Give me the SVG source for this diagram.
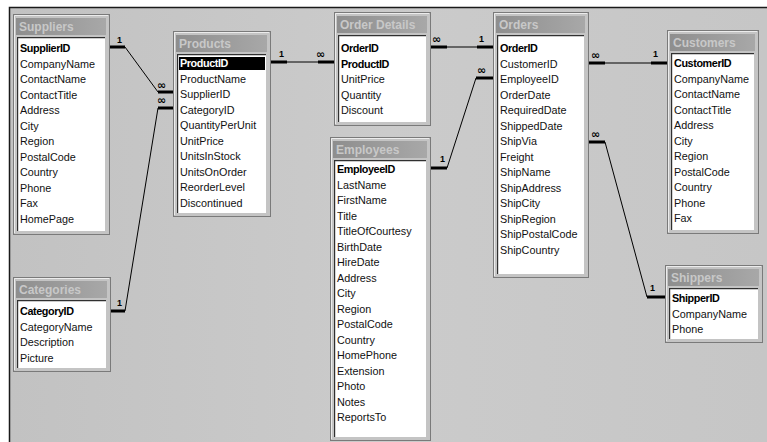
<svg xmlns="http://www.w3.org/2000/svg" width="767" height="442" viewBox="0 0 767 442">
<defs>
<linearGradient id="tg" x1="0" y1="0" x2="1" y2="0">
<stop offset="0" stop-color="#8e8e8e"/>
<stop offset="1" stop-color="#a8a8a8"/>
</linearGradient>
<linearGradient id="bg" x1="0" y1="0" x2="1" y2="0">
<stop offset="0" stop-color="#c2c2c2"/>
<stop offset="0.5" stop-color="#cbcbcb"/>
<stop offset="1" stop-color="#c6c6c6"/>
</linearGradient>
<style>
.frame{fill:#c4c4c4;stroke:#7a7a7a;stroke-width:1}
.hl{fill:none;stroke:#ececec;stroke-width:1}
.title{fill:url(#tg)}
.ttl{font-family:"Liberation Sans",Arial,sans-serif;font-size:12px;font-weight:bold;fill:#c8c8c8}
.list{fill:#ffffff}
.inset{fill:none;stroke:#303030;stroke-width:1.2}
.f{font-family:"Liberation Sans",Arial,sans-serif;font-size:10.8px;fill:#111}
.k{font-family:"Liberation Sans",Arial,sans-serif;font-size:10.8px;font-weight:bold;fill:#000;letter-spacing:-0.4px}
.stub{stroke:#000;stroke-width:3;fill:none}
.ln{stroke:#000;stroke-width:1;fill:none}
.one{font-family:"Liberation Sans",Arial,sans-serif;font-size:9px;font-weight:bold;fill:#000}
.inf{font-family:"DejaVu Sans",sans-serif;font-size:11px;font-weight:bold;fill:#000}
</style>
</defs>
<rect x="0" y="0" width="767" height="442" fill="#ffffff"/>
<rect x="9" y="7" width="758" height="435" fill="url(#bg)"/>
<path d="M9.5 442 V7.5 H767" fill="none" stroke="#1a1a1a" stroke-width="1.5"/>

<g id="connectors">
<path class="stub" d="M109 47 H125 M158 92 H173"/>
<path class="ln" d="M125 47 L158 92"/>
<text class="one" x="117" y="43">1</text>
<text class="inf" x="157" y="89">∞</text>

<path class="stub" d="M110 311 H125 M158 108 H173"/>
<path class="ln" d="M125 311 L158 108"/>
<text class="one" x="117" y="306">1</text>
<text class="inf" x="157" y="104">∞</text>

<path class="stub" d="M270 62 H287 M318 62 H334"/>
<path class="ln" d="M287 62 H318"/>
<text class="one" x="279" y="57">1</text>
<text class="inf" x="316" y="58">∞</text>

<path class="stub" d="M430 47 H447 M477 47 H493"/>
<path class="ln" d="M447 47 H477"/>
<text class="inf" x="432" y="43">∞</text>
<text class="one" x="479" y="42">1</text>

<path class="stub" d="M430 168 H447 M476 78 H493"/>
<path class="ln" d="M447 168 L476 78"/>
<text class="one" x="440" y="162">1</text>
<text class="inf" x="477" y="74">∞</text>

<path class="stub" d="M588 63 H605 M651 63 H667"/>
<path class="ln" d="M605 63 H651"/>
<text class="inf" x="591" y="59">∞</text>
<text class="one" x="653" y="57">1</text>

<path class="stub" d="M588 142 H605 M647 297 H665"/>
<path class="ln" d="M605 142 L647 297"/>
<text class="inf" x="591" y="138">∞</text>
<text class="one" x="650" y="291">1</text>
</g>

<g id="suppliers">
<rect class="frame" x="13.5" y="14.5" width="96" height="220"/>
<path class="hl" d="M14.5 233 V15.5 H108"/>
<rect class="title" x="16" y="18" width="90" height="17"/>
<text class="ttl" x="19" y="31">Suppliers</text>
<rect class="list" x="17" y="37" width="88" height="194"/>
<path class="inset" d="M17.6 231 V37.6 H105"/>
<text class="k" x="20" y="52">SupplierID</text>
<text class="f" x="20" y="67.5">CompanyName</text>
<text class="f" x="20" y="83">ContactName</text>
<text class="f" x="20" y="98.5">ContactTitle</text>
<text class="f" x="20" y="114">Address</text>
<text class="f" x="20" y="129.5">City</text>
<text class="f" x="20" y="145">Region</text>
<text class="f" x="20" y="160.5">PostalCode</text>
<text class="f" x="20" y="176">Country</text>
<text class="f" x="20" y="191.5">Phone</text>
<text class="f" x="20" y="207">Fax</text>
<text class="f" x="20" y="222.5">HomePage</text>
</g>

<g id="products">
<rect class="frame" x="173.5" y="31.5" width="97" height="185"/>
<path class="hl" d="M174.5 215 V32.5 H269"/>
<rect class="title" x="176" y="35" width="91" height="17"/>
<text class="ttl" x="179" y="48">Products</text>
<rect class="list" x="177" y="54" width="89" height="159"/>
<path class="inset" d="M177.6 213 V54.6 H266"/>
<rect x="179" y="57" width="86" height="13" fill="#000"/>
<text class="k" x="180" y="67" style="fill:#fff">ProductID</text>
<text class="f" x="180" y="82.5">ProductName</text>
<text class="f" x="180" y="98">SupplierID</text>
<text class="f" x="180" y="113.5">CategoryID</text>
<text class="f" x="180" y="129">QuantityPerUnit</text>
<text class="f" x="180" y="144.5">UnitPrice</text>
<text class="f" x="180" y="160">UnitsInStock</text>
<text class="f" x="180" y="175.5">UnitsOnOrder</text>
<text class="f" x="180" y="191">ReorderLevel</text>
<text class="f" x="180" y="206.5">Discontinued</text>
</g>

<g id="order-details">
<rect class="frame" x="334.5" y="12.5" width="96" height="113"/>
<path class="hl" d="M335.5 124 V13.5 H429"/>
<rect class="title" x="337" y="16" width="90" height="17"/>
<text class="ttl" x="340" y="29">Order Details</text>
<rect class="list" x="338" y="35" width="88" height="87"/>
<path class="inset" d="M338.6 122 V35.6 H426"/>
<text class="k" x="341" y="52">OrderID</text>
<text class="k" x="341" y="67.5">ProductID</text>
<text class="f" x="341" y="83">UnitPrice</text>
<text class="f" x="341" y="98.5">Quantity</text>
<text class="f" x="341" y="114">Discount</text>
</g>

<g id="orders">
<rect class="frame" x="493.5" y="12.5" width="95" height="265"/>
<path class="hl" d="M494.5 276 V13.5 H587"/>
<rect class="title" x="496" y="16" width="89" height="17"/>
<text class="ttl" x="499" y="29">Orders</text>
<rect class="list" x="497" y="35" width="87" height="239"/>
<path class="inset" d="M497.6 274 V35.6 H584"/>
<text class="k" x="500" y="52">OrderID</text>
<text class="f" x="500" y="67.5">CustomerID</text>
<text class="f" x="500" y="83">EmployeeID</text>
<text class="f" x="500" y="98.5">OrderDate</text>
<text class="f" x="500" y="114">RequiredDate</text>
<text class="f" x="500" y="129.5">ShippedDate</text>
<text class="f" x="500" y="145">ShipVia</text>
<text class="f" x="500" y="160.5">Freight</text>
<text class="f" x="500" y="176">ShipName</text>
<text class="f" x="500" y="191.5">ShipAddress</text>
<text class="f" x="500" y="207">ShipCity</text>
<text class="f" x="500" y="222.5">ShipRegion</text>
<text class="f" x="500" y="238">ShipPostalCode</text>
<text class="f" x="500" y="253.5">ShipCountry</text>
</g>

<g id="customers">
<rect class="frame" x="667.5" y="30.5" width="91" height="203"/>
<path class="hl" d="M668.5 232 V31.5 H757"/>
<rect class="title" x="670" y="34" width="85" height="17"/>
<text class="ttl" x="673" y="47">Customers</text>
<rect class="list" x="671" y="53" width="83" height="177"/>
<path class="inset" d="M671.6 230 V53.6 H754"/>
<text class="k" x="674" y="67">CustomerID</text>
<text class="f" x="674" y="82.5">CompanyName</text>
<text class="f" x="674" y="98">ContactName</text>
<text class="f" x="674" y="113.5">ContactTitle</text>
<text class="f" x="674" y="129">Address</text>
<text class="f" x="674" y="144.5">City</text>
<text class="f" x="674" y="160">Region</text>
<text class="f" x="674" y="175.5">PostalCode</text>
<text class="f" x="674" y="191">Country</text>
<text class="f" x="674" y="206.5">Phone</text>
<text class="f" x="674" y="222">Fax</text>
</g>

<g id="categories">
<rect class="frame" x="13.5" y="277.5" width="97" height="94"/>
<path class="hl" d="M14.5 370 V278.5 H109"/>
<rect class="title" x="16" y="281" width="91" height="17"/>
<text class="ttl" x="19" y="294">Categories</text>
<rect class="list" x="17" y="300" width="89" height="68"/>
<path class="inset" d="M17.6 368 V300.6 H106"/>
<text class="k" x="20" y="315">CategoryID</text>
<text class="f" x="20" y="330.5">CategoryName</text>
<text class="f" x="20" y="346">Description</text>
<text class="f" x="20" y="361.5">Picture</text>
</g>

<g id="employees">
<rect class="frame" x="330.5" y="137.5" width="100" height="303"/>
<path class="hl" d="M331.5 439 V138.5 H429"/>
<rect class="title" x="333" y="141" width="94" height="17"/>
<text class="ttl" x="336" y="154">Employees</text>
<rect class="list" x="334" y="160" width="92" height="277"/>
<path class="inset" d="M334.6 437 V160.6 H426"/>
<text class="k" x="337" y="173">EmployeeID</text>
<text class="f" x="337" y="188.5">LastName</text>
<text class="f" x="337" y="204">FirstName</text>
<text class="f" x="337" y="219.5">Title</text>
<text class="f" x="337" y="235">TitleOfCourtesy</text>
<text class="f" x="337" y="250.5">BirthDate</text>
<text class="f" x="337" y="266">HireDate</text>
<text class="f" x="337" y="281.5">Address</text>
<text class="f" x="337" y="297">City</text>
<text class="f" x="337" y="312.5">Region</text>
<text class="f" x="337" y="328">PostalCode</text>
<text class="f" x="337" y="343.5">Country</text>
<text class="f" x="337" y="359">HomePhone</text>
<text class="f" x="337" y="374.5">Extension</text>
<text class="f" x="337" y="390">Photo</text>
<text class="f" x="337" y="405.5">Notes</text>
<text class="f" x="337" y="421">ReportsTo</text>
</g>

<g id="shippers">
<rect class="frame" x="665.5" y="265.5" width="97" height="77"/>
<path class="hl" d="M666.5 341 V266.5 H761"/>
<rect class="title" x="668" y="269" width="91" height="17"/>
<text class="ttl" x="671" y="282">Shippers</text>
<rect class="list" x="669" y="288" width="89" height="51"/>
<path class="inset" d="M669.6 339 V288.6 H758"/>
<text class="k" x="672" y="302">ShipperID</text>
<text class="f" x="672" y="317.5">CompanyName</text>
<text class="f" x="672" y="333">Phone</text>
</g>
</svg>
